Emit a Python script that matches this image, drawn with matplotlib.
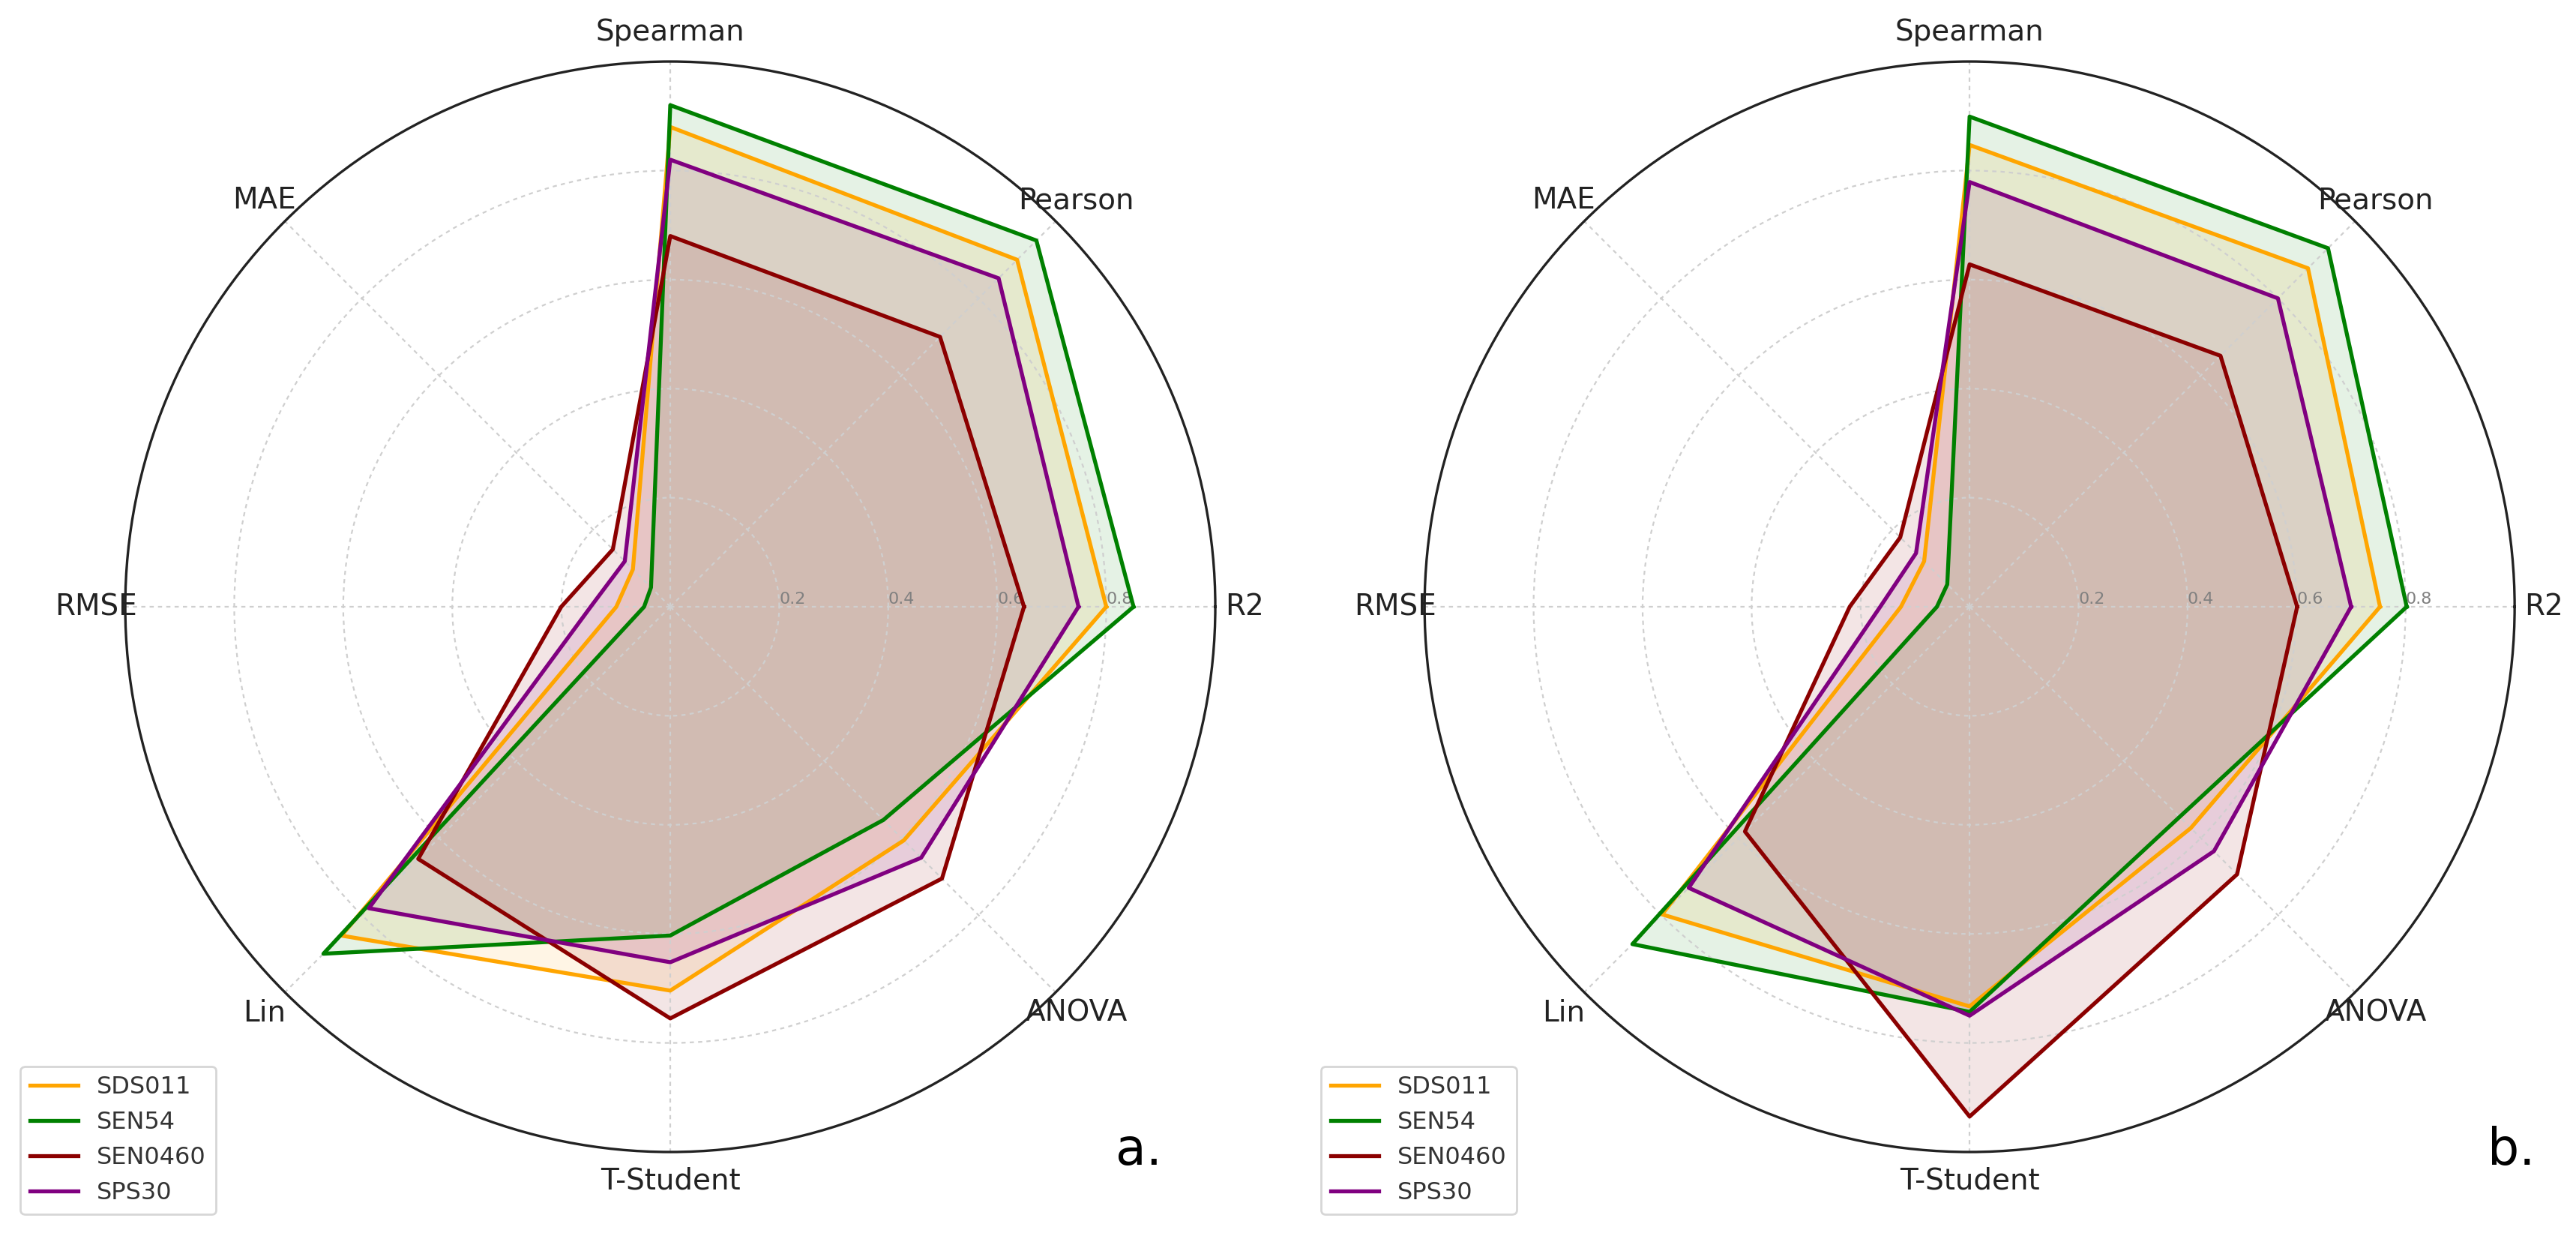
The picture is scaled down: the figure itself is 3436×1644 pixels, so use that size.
import numpy as np
import matplotlib
matplotlib.use('Agg')
import matplotlib.pyplot as plt

categories = ['R2', 'Pearson', 'Spearman', 'MAE', 'RMSE', 'Lin', 'T-Student', 'ANOVA']
sensors = ['SDS011', 'SEN54', 'SEN0460', 'SPS30']
colors = ['orange', 'green', 'darkred', 'purple']
r_ticks = [0.2, 0.4, 0.6, 0.8]

# panel a.
sds011_a = [0.80, 0.90, 0.88, 0.097, 0.099, 0.853, 0.704, 0.606]
sen54_a = [0.85, 0.95, 0.92, 0.050, 0.048, 0.900, 0.603, 0.553]
sen0460_a = [0.649, 0.70, 0.68, 0.149, 0.200, 0.654, 0.755, 0.705]
sps30_a = [0.749, 0.852, 0.82, 0.118, 0.146, 0.782, 0.652, 0.651]

# panel b.
sds011_b = [0.753, 0.878, 0.847, 0.118, 0.126, 0.798, 0.733, 0.574]
sen54_b = [0.802, 0.930, 0.899, 0.058, 0.060, 0.875, 0.743, 0.545]
sen0460_b = [0.601, 0.651, 0.628, 0.180, 0.220, 0.583, 0.935, 0.694]
sps30_b = [0.700, 0.800, 0.779, 0.139, 0.164, 0.729, 0.750, 0.634]

panels = [
    ('a.', [sds011_a, sen54_a, sen0460_a, sps30_a]),
    ('b.', [sds011_b, sen54_b, sen0460_b, sps30_b]),
]

n = len(categories)
angles = [i * 2 * np.pi / n for i in range(n)]
angles += angles[:1]

fig = plt.figure(figsize=(17.18, 8.22), dpi=200)

ax_rects = [[0.0486, 0.0657, 0.4232, 0.8844],
            [0.5530, 0.0657, 0.4232, 0.8844]]
legend_pos = [(0.0079, 0.0152), (0.5128, 0.0152)]
letter_pos = [(0.442, 0.067), (0.975, 0.067)]

for idx, (letter, series) in enumerate(panels):
    ax = fig.add_axes(ax_rects[idx], polar=True)
    for name, col, vals in zip(sensors, colors, series):
        v = list(vals) + vals[:1]
        ax.plot(angles, v, color=col, linewidth=1.9, label=name)
        ax.fill(angles, v, color=col, alpha=0.1)
    ax.set_xticks(angles[:-1])
    ax.set_xticklabels(categories, fontsize=14, color='#222222')
    ax.set_rlabel_position(0)
    ax.set_yticks(r_ticks)
    ax.set_yticklabels([str(t) for t in r_ticks], color='grey', size=8)
    ax.set_ylim(0, 1)
    ax.grid(True, color='#cfcfcf', linestyle=(0, (2.5, 2.5)), linewidth=0.8)
    ax.spines['polar'].set_linewidth(1.2)
    ax.spines['polar'].set_color('#222222')
    leg = ax.legend(loc='lower left', bbox_to_anchor=legend_pos[idx],
                    bbox_transform=fig.transFigure, borderaxespad=0,
                    fontsize=11.5)
    for t in leg.get_texts():
        t.set_color('#333333')
    fig.text(letter_pos[idx][0], letter_pos[idx][1], letter, fontsize=24,
             ha='center', va='center')

fig.savefig('out.png', dpi=200)
